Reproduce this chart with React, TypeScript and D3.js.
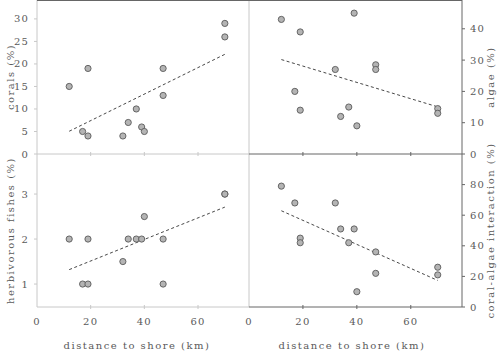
import * as d3 from 'd3'

// distance to shore (km), shared by all four panels
const distance = [12, 17, 19, 19, 32, 34, 37, 39, 40, 47, 47, 70, 70]
const corals = [15, 5, 19, 4, 4, 7, 10, 6, 5, 19, 13, 29, 26]
const algae = [43, 20, 39, 14, 27, 12, 15, 45, 9, 28.5, 27, 14.5, 13]
const herbivores = [2, 1, 2, 1, 1.5, 2, 2, 2, 2.5, 2, 1, 3, 3]
const interaction = [79, 68, 45, 42, 68, 51, 42, 51, 10, 36, 22, 26, 21]

const coralTicks = [0, 5, 10, 15, 20, 25, 30]
const algaeTicks = [0, 10, 20, 30, 40]
const herbTicks = [1, 2, 3]
const interTicks = [0, 20, 40, 60, 80]
const distTicks = [0, 20, 40, 60]

const font = "'DejaVu Serif', 'Liberation Serif', serif"
const textCol = '#5a5a5a'
const light = '#c8c8c8'
const dark = '#666'

function fit(xs: number[], ys: number[]) {
  const mx = d3.mean(xs)!, my = d3.mean(ys)!
  let sxy = 0, sxx = 0
  xs.forEach((x, i) => { sxy += (x - mx) * (ys[i] - my); sxx += (x - mx) ** 2 })
  const b = sxy / sxx
  const x0 = d3.min(xs)!, x1 = d3.max(xs)!
  return [[x0, my + b * (x0 - mx)], [x1, my + b * (x1 - mx)]]
}

const Panel = ({ x, y, ys, ticks, side, title, axisCol }) => {
  const trend = fit(distance, ys)
  const line = d3.line<number[]>().x(d => x(d[0])).y(d => y(d[1]))
  const [x0, x1] = x.range()
  const [yb, yt] = y.range()
  const axX = side === 'left' ? x0 : x1
  const dir = side === 'left' ? -1 : 1
  const mid = (yb + yt) / 2
  return (
    <g>
      {ticks.map(t => (
        <g key={t}>
          <line x1={axX} x2={axX + dir * 3} y1={y(t)} y2={y(t)} stroke={axisCol} />
          <text x={axX + dir * 8} y={y(t)} dy="0.35em" textAnchor={side === 'left' ? 'end' : 'start'}
            fontSize={10} fill={textCol} letterSpacing={1.2}>{t}</text>
        </g>
      ))}
      {distTicks.slice(1).map(t => (
        <line key={t} x1={x(t)} x2={x(t)} y1={yb - 2} y2={yb + 2} stroke={axisCol} />
      ))}
      <path d={line(trend)!} fill="none" stroke="#333" strokeWidth={0.9} strokeDasharray="3,2.5" />
      {distance.map((d, i) => (
        <circle key={i} cx={x(d)} cy={y(ys[i])} r={3.1} fill="#b4b4b4" stroke="#5a5a5a" strokeWidth={0.9} />
      ))}
      <text transform={`translate(${side === 'left' ? 10 : 490},${mid}) rotate(-90)`}
        textAnchor="middle" dy="0.35em" fontSize={10} fill={textCol} letterSpacing={1.5}>{title}</text>
    </g>
  )
}

const App = () => {
  const xL = d3.scaleLinear().domain([0, 79]).range([37, 249])
  const xR = d3.scaleLinear().domain([0, 79]).range([249, 462])
  const yCor = d3.scaleLinear().domain([0, 34.2]).range([154, 0])
  const yAlg = d3.scaleLinear().domain([0, 49.2]).range([154, 0])
  const yHer = d3.scaleLinear().domain([0.49, 3.89]).range([307, 154])
  const yInt = d3.scaleLinear().domain([0, 100]).range([307, 154])

  return (
    <svg width={500} height={354} style={{ position: 'absolute', left: 0, top: 0 }}>
      <rect width={500} height={354} fill="#fff" />
      {/* frame */}
      <line x1={37} x2={37} y1={0} y2={307} stroke={light} />
      <line x1={249} x2={249} y1={0} y2={307} stroke={light} />
      <line x1={37} x2={249} y1={154} y2={154} stroke={light} />
      <line x1={37} x2={249} y1={307} y2={307} stroke={light} />
      <line x1={37} x2={462} y1={0.5} y2={0.5} stroke={dark} />
      <line x1={249} x2={462} y1={154} y2={154} stroke={dark} />
      <line x1={249} x2={462} y1={307} y2={307} stroke={dark} />
      <line x1={462} x2={462} y1={0} y2={307} stroke={dark} />

      <g fontFamily={font}>
        <Panel x={xL} y={yCor} ys={corals} ticks={coralTicks} side="left" title="corals (%)" axisCol={light} />
        <Panel x={xR} y={yAlg} ys={algae} ticks={algaeTicks} side="right" title="algae (%)" axisCol={dark} />
        <Panel x={xL} y={yHer} ys={herbivores} ticks={herbTicks} side="left" title="herbivorous fishes (%)" axisCol={light} />
        <Panel x={xR} y={yInt} ys={interaction} ticks={interTicks} side="right" title="coral-algae interaction (%)" axisCol={dark} />

        {[xL, xR].map((x, k) => (
          <g key={k}>
            {distTicks.map(t => (
              <text key={t} x={x(t)} y={325} textAnchor="middle" fontSize={10} fill={textCol} letterSpacing={1.2}>{t}</text>
            ))}
            <text x={k === 0 ? 137 : 352} y={349} textAnchor="middle" fontSize={10} fill={textCol} letterSpacing={1.5}>
              distance to shore (km)
            </text>
          </g>
        ))}
      </g>
    </svg>
  )
}

export default App
